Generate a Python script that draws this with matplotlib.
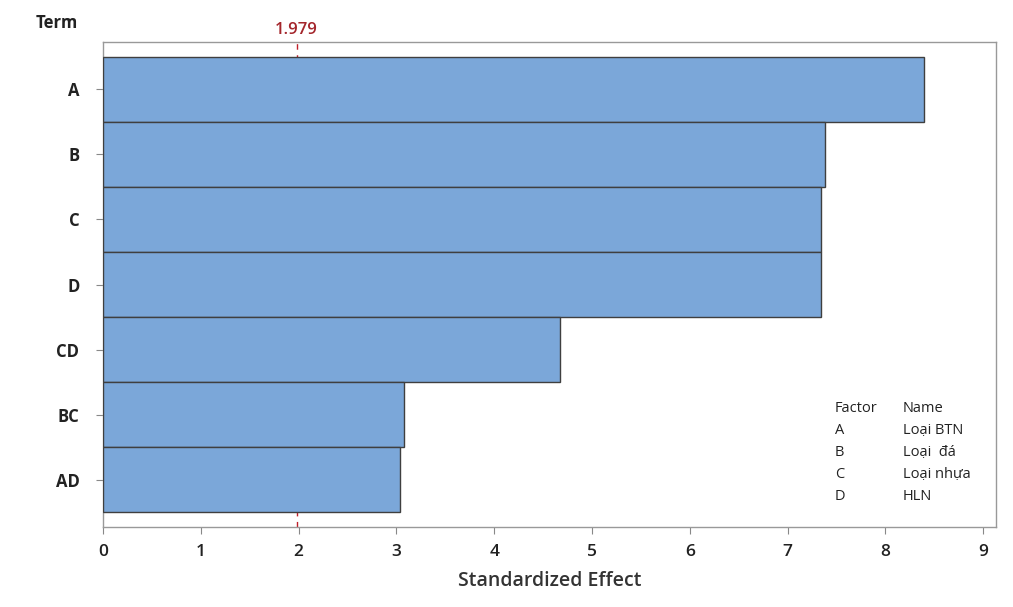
import matplotlib
matplotlib.use('Agg')
import matplotlib.pyplot as plt

# Pareto chart of standardized effects
terms = ['A', 'B', 'C', 'D', 'CD', 'BC', 'AD']
effects = [8.39, 7.38, 7.34, 7.34, 4.67, 3.08, 3.04]
threshold = 1.979
factors = ['A', 'B', 'C', 'D']
factor_names = ['Loại BTN', 'Loại  đá', 'Loại nhựa', 'HLN']

plt.rcParams['font.family'] = ['Open Sans', 'DejaVu Sans']

fig = plt.figure(figsize=(10.13, 6.07), dpi=100)
ax = fig.add_axes([0.1017, 0.1318, 0.8815, 0.799])

ypos = list(range(len(terms)))
ax.barh(ypos, effects, height=1.0, color='#7BA7D9', edgecolor='#3F3F3F', linewidth=1.0, zorder=3)
ax.set_ylim(len(terms) - 0.5 + 0.23, -0.5 - 0.23)
ax.set_xlim(0, 9.13)
ax.set_yticks(ypos)
ax.set_yticklabels(terms, fontsize=12, fontweight='bold', color='#222222')
ax.set_xticks(range(10))
ax.set_xticklabels([str(i) for i in range(10)], fontsize=12.5, fontweight='semibold', color='#222222')
ax.tick_params(axis='x', direction='out', length=5, color='#888888', pad=7)
ax.tick_params(axis='y', direction='out', length=5, color='#888888', pad=12)

for s in ax.spines.values():
    s.set_color('#999999')
    s.set_linewidth(1.0)

# threshold line (hidden behind the bars)
ax.axvline(threshold, color='#C0202A', linestyle=(0, (4, 4)), linewidth=1.0, zorder=2)
ax.text(threshold, -0.5 - 0.23 - 0.06, '%.3f' % threshold, color='#A4262C', fontsize=12,
        fontweight='semibold', ha='center', va='bottom')

ax.set_xlabel('Standardized Effect', fontsize=14, fontweight='semibold', color='#333333', labelpad=8)
fig.text(0.035, 0.962, 'Term', fontsize=12, fontweight='bold', color='#222222', ha='left', va='center')

# factor legend
lx1, lx2 = 835 / 1013, 903 / 1013
ly = 1 - 409 / 607
dy = 22 / 607
fig.text(lx1, ly, 'Factor', fontsize=10.5, color='#222222', va='center')
fig.text(lx2, ly, 'Name', fontsize=10.5, color='#222222', va='center')
for i, (f, n) in enumerate(zip(factors, factor_names)):
    fig.text(lx1, ly - (i + 1) * dy, f, fontsize=10.5, color='#222222', va='center')
    fig.text(lx2, ly - (i + 1) * dy, n, fontsize=10.5, color='#222222', va='center')

fig.savefig('out.png', dpi=100, facecolor='white')
